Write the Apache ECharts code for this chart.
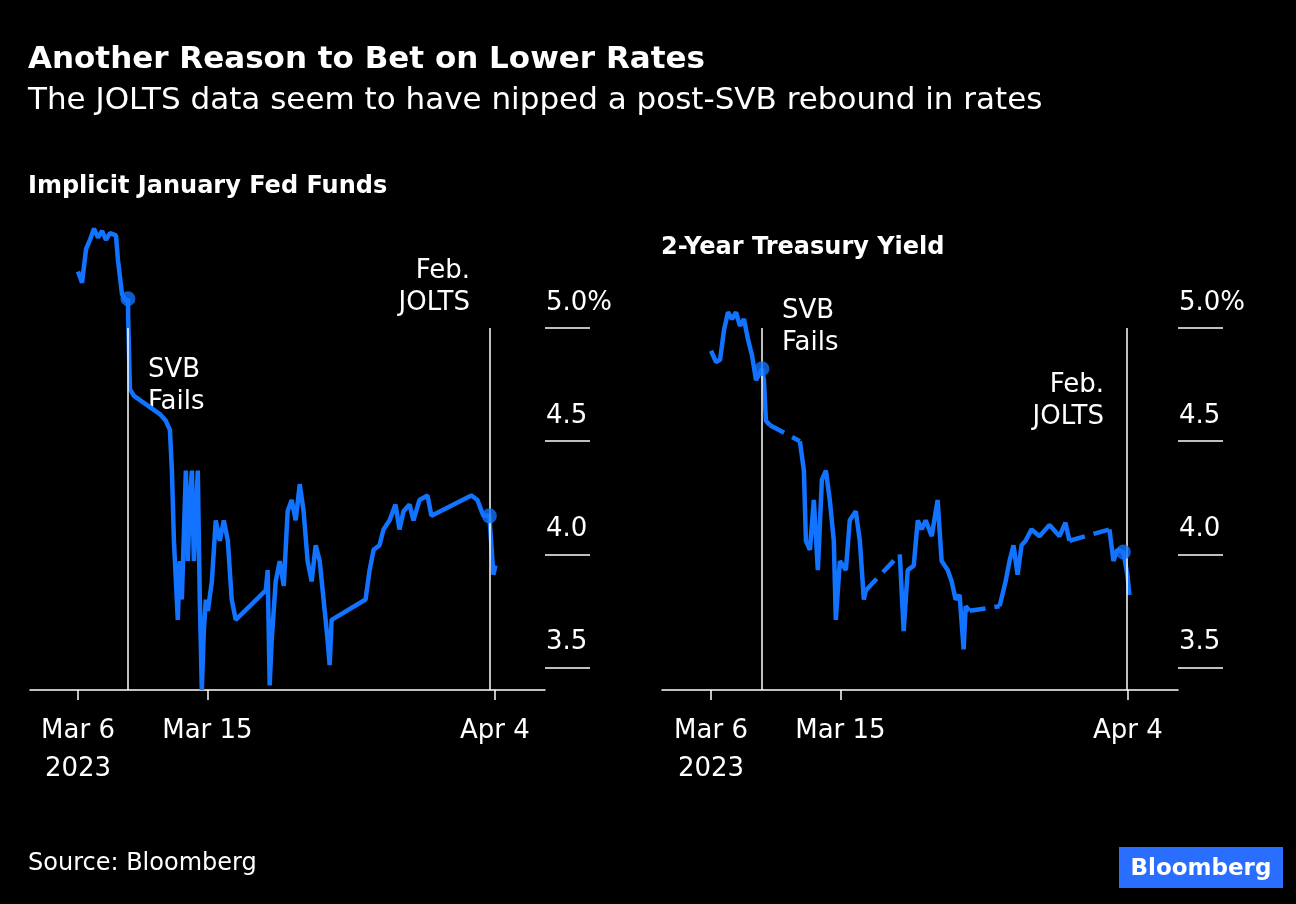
<!DOCTYPE html>
<html>
<head>
<meta charset="utf-8">
<script src="https://cdn.jsdelivr.net/npm/echarts@6/dist/echarts.min.js"></script>
<style>
  html, body { margin: 0; padding: 0; background: #000; }
  #chart { width: 1296px; height: 904px; }
</style>
</head>
<body>
<div id="chart"></div>
<script>
// days since Mar 6 2023, values in percent
var leftDays = [0.00, 0.28, 0.56, 0.83, 1.11, 1.39, 1.67, 1.94, 2.22, 2.64, 2.78, 3.06, 3.33, 3.47, 3.49, 3.61, 3.89,
    5.69, 6.11, 6.39, 6.53, 6.67, 6.81, 6.94, 7.08, 7.22, 7.50, 7.64, 7.78, 7.92, 8.06, 8.33, 8.47, 8.61, 8.75, 8.89,
    9.03, 9.31, 9.58, 9.86, 10.14, 10.42, 10.69, 10.97, 13.06, 13.19, 13.33, 13.47, 13.75, 14.03, 14.31, 14.58, 14.86,
    15.14, 15.42, 15.69, 15.97, 16.25, 16.53, 16.81, 17.08, 17.36, 17.50, 17.64, 20.00, 20.28, 20.56, 20.97, 21.25,
    21.67, 22.08, 22.36, 22.64, 23.06, 23.33, 23.75, 24.31, 24.58, 27.36, 27.78, 28.19, 28.61, 28.75, 28.89, 29.03];
var leftVals = [5.25, 5.20, 5.35, 5.39, 5.44, 5.40, 5.43, 5.39, 5.42, 5.41, 5.30, 5.15, 5.12, 5.13, 5.04, 4.73, 4.70,
    4.62, 4.59, 4.55, 4.37, 4.06, 3.88, 3.71, 3.97, 3.80, 4.37, 3.97, 4.24, 4.37, 3.97, 4.37, 3.80, 3.40, 3.66, 3.80,
    3.75, 3.88, 4.15, 4.06, 4.15, 4.06, 3.80, 3.71, 3.84, 3.93, 3.42, 3.62, 3.88, 3.97, 3.86, 4.19, 4.24,
    4.15, 4.31, 4.19, 3.97, 3.88, 4.04, 3.97, 3.80, 3.62, 3.51, 3.71, 3.80, 3.93, 4.02, 4.04, 4.11,
    4.15, 4.22, 4.11, 4.19, 4.22, 4.15, 4.24, 4.26, 4.17, 4.26, 4.24, 4.17, 4.17, 4.04, 3.91, 3.95];
var leftMarks = [[3.47, 5.13], [28.61, 4.17]];
var leftEvents = [3.47, 28.61];

var rightDays = [0.00, 0.35, 0.63, 0.90, 1.18, 1.46, 1.74, 2.01, 2.29, 2.57, 2.85, 3.13, 3.54, 3.68, 3.82, 4.10,
    6.18, 6.46, 6.60, 6.88, 7.15, 7.43, 7.71, 7.99, 8.26, 8.54, 8.68, 8.96, 9.38, 9.65, 10.07, 10.35, 10.63, 10.76,
    13.13, 13.40, 13.68, 14.10, 14.38, 14.65, 14.93, 15.35, 15.76, 16.04, 16.46, 16.74, 17.01, 17.29, 17.57, 17.71, 17.99,
    20.07, 20.49, 20.76, 21.04, 21.32, 21.60, 21.88, 22.29, 22.85, 23.54, 24.24, 24.65, 24.93,
    27.71, 27.99, 28.26, 28.68, 28.96, 29.10];
var rightVals = [4.90, 4.85, 4.86, 4.99, 5.07, 5.04, 5.07, 5.01, 5.04, 4.95, 4.88, 4.77, 4.82, 4.77, 4.59, 4.57,
    4.50, 4.37, 4.06, 4.02, 4.24, 3.93, 4.33, 4.37, 4.24, 4.06, 3.71, 3.97, 3.93, 4.15, 4.19, 4.06, 3.80, 3.84,
    4.00, 3.66, 3.93, 3.95, 4.15, 4.11, 4.15, 4.08, 4.24, 3.97, 3.93, 3.88, 3.80, 3.82, 3.58, 3.77, 3.75,
    3.77, 3.88, 3.97, 4.04, 3.91, 4.04, 4.06, 4.11, 4.08, 4.13, 4.08, 4.14, 4.06,
    4.11, 3.97, 4.02, 4.01, 3.91, 3.82];
var rightGapAfter = [15, 33, 50, 63];   // no trading: dashed bridge
var rightMarks = [[3.54, 4.82], [28.68, 4.01]];
var rightEvents = [3.54, 28.9];

var yTicks = [3.5, 4.0, 4.5, 5.0];
var xTicks = [0, 9, 29];
var xTickLabels = { 0: 'Mar 6\n2023', 9: 'Mar 15', 29: 'Apr 4' };

var BLUE = '#1173ff';
var FONT = '"DejaVu Sans", sans-serif';

function solidData(days, vals, gaps) {
    var out = [];
    for (var i = 0; i < days.length; i++) {
        out.push([days[i], vals[i]]);
        if (gaps.indexOf(i) >= 0) out.push([days[i], '-']);
    }
    return out;
}
function dashedData(days, vals, gaps) {
    var out = [];
    gaps.forEach(function (i) {
        out.push([days[i], vals[i]], [days[i + 1], vals[i + 1]], [days[i + 1], '-']);
    });
    return out;
}
// vertical event lines plus the short level rules beside the value labels
function refLines(evts, ruleX0) {
    var lines = evts.map(function (d) {
        return [{ coord: [d, 5.0] }, { coord: [d, 3.4] }];
    });
    yTicks.forEach(function (v) {
        lines.push([{ x: ruleX0, yAxis: v }, { x: ruleX0 + 45, yAxis: v }]);
    });
    return lines;
}

function xAxisFor(idx, min) {
    return {
        type: 'value', gridIndex: idx, min: min, max: 32.48,
        axisLine: { show: true, onZero: false, lineStyle: { color: '#fff', width: 1.5 } },
        axisTick: { show: true, customValues: xTicks, length: 10, lineStyle: { color: '#fff', width: 1.5 } },
        axisLabel: {
            customValues: xTicks, color: '#fff', fontSize: 26, fontFamily: FONT, margin: 22, lineHeight: 38,
            verticalAlign: 'top', formatter: function (v) { return xTickLabels[v]; }
        },
        splitLine: { show: false }
    };
}
function yAxisFor(idx) {
    return {
        type: 'value', gridIndex: idx, min: 3.4, max: 5.5, position: 'right',
        axisLine: { show: false },
        axisTick: { show: false },
        axisLabel: {
            customValues: yTicks, color: '#fff', fontSize: 26, fontFamily: FONT,
            margin: 1, align: 'left', verticalAlign: 'bottom', padding: [0, 0, 12, 0],
            formatter: function (v) { return v === 5 ? '5.0%' : v.toFixed(1); }
        },
        splitLine: { show: false }
    };
}

function txt(x, y, text, opts) {
    opts = opts || {};
    return {
        type: 'text', x: x, y: y,
        style: {
            text: text, fill: '#fff', font: (opts.bold ? 'bold ' : '') + (opts.size || 26) + 'px ' + FONT,
            lineHeight: opts.lh || 32, align: opts.align || 'left', verticalAlign: 'top'
        }
    };
}

var option = {
    backgroundColor: '#000',
    animation: false,
    grid: [
        { left: 30, right: 1296 - 545, top: 215, bottom: 214 },
        { left: 662, right: 1296 - 1178, top: 215, bottom: 214 }
    ],
    xAxis: [xAxisFor(0, -3.34), xAxisFor(1, -3.41)],
    yAxis: [yAxisFor(0), yAxisFor(1)],
    series: [
        {
            type: 'line', xAxisIndex: 0, yAxisIndex: 0, showSymbol: false, connectNulls: false,
            data: solidData(leftDays, leftVals, []),
            lineStyle: { color: BLUE, width: 4.5 },
            markLine: {
                silent: true, symbol: 'none', label: { show: false },
                lineStyle: { color: '#fff', width: 1.5, type: 'solid' },
                data: refLines(leftEvents, 545)
            }
        },
        {
            type: 'scatter', xAxisIndex: 0, yAxisIndex: 0, symbolSize: 15,
            itemStyle: { color: BLUE }, data: leftMarks, z: 5
        },
        {
            type: 'line', xAxisIndex: 1, yAxisIndex: 1, showSymbol: false, connectNulls: false,
            data: solidData(rightDays, rightVals, rightGapAfter),
            lineStyle: { color: BLUE, width: 4.5 },
            markLine: {
                silent: true, symbol: 'none', label: { show: false },
                lineStyle: { color: '#fff', width: 1.5, type: 'solid' },
                data: refLines(rightEvents, 1178)
            }
        },
        {
            type: 'line', xAxisIndex: 1, yAxisIndex: 1, showSymbol: false, connectNulls: false,
            data: dashedData(rightDays, rightVals, rightGapAfter),
            lineStyle: { color: BLUE, width: 4.5, type: [16, 9] }
        },
        {
            type: 'scatter', xAxisIndex: 1, yAxisIndex: 1, symbolSize: 15,
            itemStyle: { color: BLUE }, data: rightMarks, z: 5
        }
    ],
    graphic: [
        txt(28, 44, 'Another Reason to Bet on Lower Rates', { bold: true, size: 31 }),
        txt(28, 85, 'The JOLTS data seem to have nipped a post-SVB rebound in rates', { size: 31 }),
        txt(28, 171, 'Implicit January Fed Funds', { bold: true, size: 24 }),
        txt(661, 232, '2-Year Treasury Yield', { bold: true, size: 24 }),
        txt(148, 354, 'SVB\nFails'),
        txt(470, 255, 'Feb.\nJOLTS', { align: 'right' }),
        txt(782, 295, 'SVB\nFails'),
        txt(1104, 369, 'Feb.\nJOLTS', { align: 'right' }),
        txt(28, 848, 'Source: Bloomberg', { size: 24 }),
        {
            type: 'rect', x: 1119, y: 847, shape: { width: 164, height: 41 },
            style: { fill: '#2a6eff' }
        },
        txt(1201, 853, 'Bloomberg', { bold: true, size: 23, align: 'center' })
    ]
};

var chart = echarts.init(document.getElementById('chart'));
chart.setOption(option);
</script>
</body>
</html>
